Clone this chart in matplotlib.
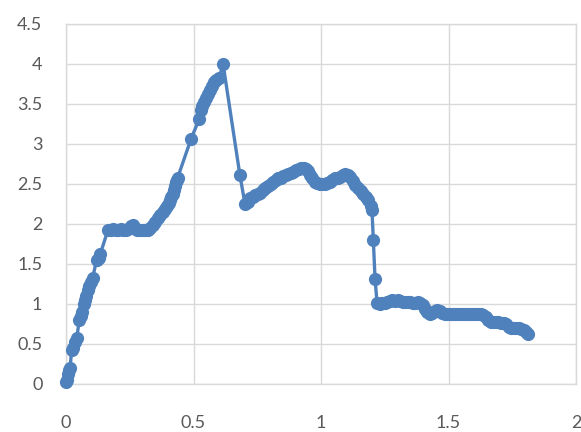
import matplotlib
matplotlib.use("Agg")
import matplotlib.pyplot as plt
from matplotlib.ticker import FuncFormatter, MultipleLocator

# sampled curve, x and y read as pairs
X_VALUES = [
    0.000, 0.004, 0.008, 0.012, 0.016, 0.022, 0.028, 0.036, 0.042, 0.052,
    0.058, 0.064, 0.070, 0.075, 0.080, 0.086, 0.092, 0.098, 0.104, 0.120,
    0.128, 0.134,
    0.165, 0.175, 0.185, 0.195, 0.205, 0.215, 0.225, 0.235, 0.245, 0.255,
    0.262, 0.270, 0.280, 0.290, 0.300, 0.310, 0.320,
    0.330, 0.340, 0.350, 0.360, 0.370, 0.380, 0.388, 0.396, 0.402, 0.408,
    0.413, 0.418, 0.422, 0.426, 0.430, 0.434, 0.438,
    0.490, 0.522, 0.528, 0.535, 0.542, 0.550, 0.557, 0.564, 0.572, 0.580,
    0.590, 0.600, 0.616,
    0.682, 0.702, 0.712, 0.722, 0.732, 0.742, 0.752, 0.762, 0.772, 0.782,
    0.792, 0.802, 0.812, 0.822, 0.832, 0.842, 0.852, 0.862, 0.872, 0.882,
    0.892, 0.902, 0.912, 0.922, 0.932, 0.942, 0.950, 0.958, 0.966, 0.975,
    0.985, 0.995, 1.005, 1.015, 1.025, 1.035, 1.045, 1.055, 1.065, 1.075,
    1.085, 1.095, 1.105, 1.115, 1.125, 1.135, 1.145, 1.155, 1.165, 1.175,
    1.185, 1.195, 1.200,
    1.205, 1.212, 1.220,
    1.230, 1.240, 1.250, 1.260, 1.270, 1.280, 1.290, 1.300, 1.310, 1.320,
    1.330, 1.340, 1.350, 1.360, 1.370, 1.380, 1.390, 1.400, 1.408, 1.416,
    1.426, 1.436, 1.446, 1.456, 1.466, 1.476, 1.486, 1.496, 1.506, 1.516,
    1.526, 1.536, 1.546, 1.556, 1.566, 1.576, 1.586, 1.596, 1.606, 1.616,
    1.626, 1.636, 1.646, 1.656, 1.666, 1.676, 1.686, 1.696, 1.706, 1.716,
    1.726, 1.736, 1.746, 1.756, 1.766, 1.776, 1.786, 1.796, 1.804, 1.810,
]
Y_VALUES = [
    0.02, 0.05, 0.12, 0.18, 0.20, 0.42, 0.45, 0.52, 0.57, 0.80,
    0.85, 0.90, 1.00, 1.05, 1.10, 1.17, 1.22, 1.27, 1.32, 1.55,
    1.58, 1.62,
    1.93, 1.93, 1.94, 1.93, 1.93, 1.94, 1.93, 1.93, 1.94, 1.97,
    1.99, 1.95, 1.93, 1.93, 1.93, 1.93, 1.93,
    1.95, 1.99, 2.03, 2.07, 2.11, 2.15, 2.19, 2.22, 2.26, 2.30,
    2.34, 2.38, 2.43, 2.48, 2.52, 2.55, 2.58,
    3.06, 3.31, 3.42, 3.47, 3.52, 3.58, 3.63, 3.68, 3.73, 3.77,
    3.80, 3.82, 4.00,
    2.61, 2.25, 2.28, 2.32, 2.34, 2.36, 2.37, 2.39, 2.42, 2.45,
    2.48, 2.50, 2.53, 2.55, 2.57, 2.58, 2.60, 2.61, 2.62, 2.64,
    2.65, 2.67, 2.69, 2.70, 2.70, 2.69, 2.66, 2.61, 2.57, 2.53,
    2.51, 2.50, 2.50, 2.50, 2.51, 2.53, 2.55, 2.57, 2.58, 2.59,
    2.61, 2.62, 2.61, 2.59, 2.54, 2.49, 2.45, 2.41, 2.37, 2.34,
    2.30, 2.22, 2.17,
    1.80, 1.31, 1.01,
    1.00, 1.01, 1.01, 1.02, 1.04, 1.05, 1.04, 1.05, 1.04, 1.03,
    1.02, 1.02, 1.02, 1.01, 1.01, 1.02, 1.01, 0.99, 0.94, 0.90,
    0.88, 0.89, 0.91, 0.93, 0.91, 0.89, 0.88, 0.88, 0.88, 0.88,
    0.88, 0.88, 0.88, 0.88, 0.88, 0.88, 0.88, 0.88, 0.88, 0.87,
    0.87, 0.86, 0.84, 0.80, 0.78, 0.77, 0.77, 0.77, 0.76, 0.76,
    0.75, 0.71, 0.70, 0.70, 0.70, 0.70, 0.69, 0.67, 0.65, 0.63,
]

LINE_COLOR = "#4f81bd"
GRID_COLOR = "#d9d9d9"
TEXT_COLOR = "#595959"

plt.rcParams["font.family"] = ["Lato", "DejaVu Sans"]

fig = plt.figure(figsize=(5.81, 4.32), dpi=100)
ax = fig.add_axes([66 / 581, 48 / 432, 510 / 581, 360 / 432])

ax.plot(X_VALUES, Y_VALUES, color=LINE_COLOR, linewidth=2.4, marker="o",
        markersize=9.5, markeredgewidth=0, clip_on=False, zorder=3)

ax.set_xlim(0, 2)
ax.set_ylim(0, 4.5)
ax.xaxis.set_major_locator(MultipleLocator(0.5))
ax.yaxis.set_major_locator(MultipleLocator(0.5))
fmt = FuncFormatter(lambda v, pos: "%g" % v)
ax.xaxis.set_major_formatter(fmt)
ax.yaxis.set_major_formatter(fmt)

ax.grid(True, color=GRID_COLOR, linewidth=1.0)
ax.set_axisbelow(True)
for side in ax.spines.values():
    side.set_color(GRID_COLOR)
    side.set_linewidth(1.0)

ax.tick_params(axis="both", length=0, labelsize=13, labelcolor=TEXT_COLOR)
ax.tick_params(axis="y", pad=17)
ax.tick_params(axis="x", pad=22)

fig.savefig("out.png", dpi=100)
